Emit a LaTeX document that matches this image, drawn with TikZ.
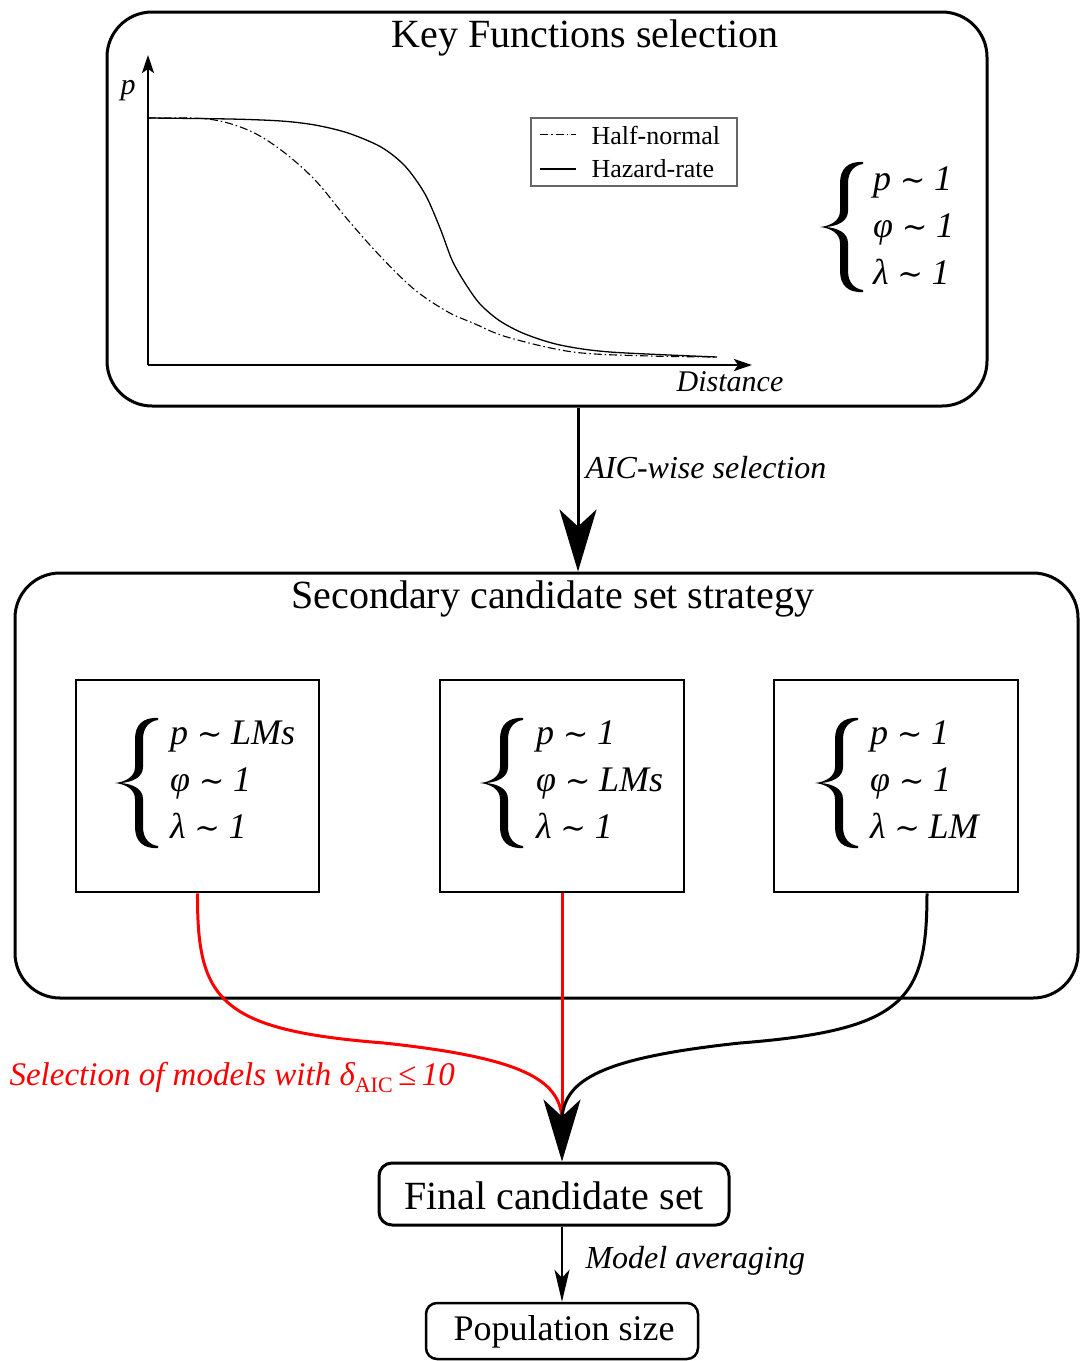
\documentclass[tikz,border=0pt]{standalone}
\usepackage{fontspec}
\setmainfont{Liberation Serif}
\newfontfamily\symfont[Scale=0.85]{DejaVu Serif}
\usetikzlibrary{arrows.meta}
\newcommand{\relx}[2]{\textit{#1}\hspace{0.24em}{\symfont ∼}\hspace{0.24em}\textit{#2}}
\begin{document}
\begin{tikzpicture}[x=1pt,y=-1pt,
  bigbox/.style={draw,line width=3pt,rounded corners=45pt,inner sep=0pt},
  subbox/.style={draw,line width=2.5pt,inner sep=0pt},
  smallbox/.style={draw,line width=3pt,rounded corners=13pt,inner sep=0pt},
  title/.style={font=\fontsize{40}{48}\selectfont},
  lab/.style={font=\fontsize{32}{38}\selectfont\itshape},
  systxt/.style={anchor=west,inner sep=0pt,align=left,font=\fontsize{36}{47}\selectfont},
  bigarrow/.style={line width=3pt,-{Stealth[length=62pt,width=37pt,inset=17pt]}},
  axisarrow/.style={line width=2.5pt,-{Stealth[length=18pt,width=12pt,inset=4pt]}},
  redline/.style={line width=3pt,red},
  blackline/.style={line width=3pt,black},
  mybrace/.pic={\fill (43,-65) .. controls (28,-66) and (20,-58) .. (20,-44) -- (20,-16)
     .. controls (20,-6) and (10,-1) .. (0,0) .. controls (10,1) and (20,6) .. (20,16) -- (20,44)
     .. controls (20,58) and (28,66) .. (43,65) -- (43,63) .. controls (35,62) and (28,56) .. (28,44)
     -- (28,16) .. controls (28,6) and (18,1) .. (6,0) .. controls (18,-1) and (28,-6) .. (28,-16)
     -- (28,-44) .. controls (28,-56) and (35,-62) .. (43,-63) -- cycle;}]
\useasboundingbox (0,0) rectangle (1080,1361);
% top box
\node[bigbox,minimum width=880pt,minimum height=394pt] (top) at (547,209) {};
\node[title] (toptitle) at (585,38) {Key Functions selection};
% axes
\coordinate (org) at (148,365);
\coordinate (ytip) at (148,55);
\coordinate (xtip) at (752,365);
\draw[axisarrow] (org) -- (ytip);
\draw[axisarrow] (org) -- (xtip);
\node[font=\fontsize{30}{36}\selectfont\itshape] (plab) at (128,91) {p};
\node[font=\fontsize{30}{36}\selectfont\itshape] (dlab) at (730,382) {Distance};
% curves
\draw[line width=1.1pt,dash pattern=on 8pt off 3pt on 1.5pt off 3pt]
  plot[smooth,tension=0.55] coordinates {(148,118) (208,119) (248,130) (281,150) (315,180) (348,220) (381,257) (415,290) (448,312) (473,323) (507,337) (573,352) (650,356) (717,357)};
\draw[line width=1.3pt]
  plot[smooth,tension=0.5] coordinates {(148,118) (230,119) (281,121) (315,125) (348,133) (381,147) (405,166) (425,194) (440,228) (452,260) (465,283) (480,304) (500,321) (525,334) (560,345) (610,352) (717,357)};
% legend
\node[draw=black!60,line width=1.2pt,minimum width=206pt,minimum height=68pt,inner sep=0pt] (leg) at (634,152) {};
\draw[line width=1pt,dash pattern=on 8pt off 3pt on 1.5pt off 3pt] (540,134) -- (576,134);
\draw[line width=1.2pt] (540,169) -- (576,169);
\node[anchor=west,font=\fontsize{26}{30}\selectfont] (l1) at (588,135) {Half-normal};
\node[anchor=west,font=\fontsize{26}{30}\selectfont] (l2) at (588,169) {Hazard-rate};
% top system
\pic at (820,227) {mybrace};
\node[systxt] (topsys) at (873,226) {\relx{p}{1}\\\relx{φ}{1}\\\relx{λ}{1}};
% second box
\node[bigbox,minimum width=1063pt,minimum height=425pt] (mid) at (546.5,785.5) {};
\node[title] (midtitle) at (553,599) {Secondary candidate set strategy};
\node[subbox,minimum width=243pt,minimum height=212pt] (b1) at (197.5,786) {};
\node[subbox,minimum width=244pt,minimum height=212pt] (b2) at (562,786) {};
\node[subbox,minimum width=244pt,minimum height=212pt] (b3) at (896,786) {};
\pic at (115,783) {mybrace};
\pic at (480,783) {mybrace};
\pic at (815,783) {mybrace};
\node[systxt] (s1) at (170,780) {\relx{p}{LMs}\\\relx{φ}{1}\\\relx{λ}{1}};
\node[systxt] (s2) at (536,780) {\relx{p}{1}\\\relx{φ}{LMs}\\\relx{λ}{1}};
\node[systxt] (s3) at (870,780) {\relx{p}{1}\\\relx{φ}{1}\\\relx{λ}{LM}};
% arrow 1
\coordinate (ax) at (578,0);
\draw[bigarrow] (top.south -| ax) -- (mid.north -| ax);
\node[lab,anchor=west] (aic) at (582,468) {AIC-wise selection};
% final boxes
\node[smallbox,minimum width=350pt,minimum height=62pt] (final) at (554,1194) {};
\node[title] (finaltxt) at (554,1196) {Final candidate set};
\node[draw,line width=2.5pt,rounded corners=11pt,minimum width=272pt,minimum height=56pt,inner sep=0pt] (pop) at (562,1331) {};
\node[font=\fontsize{36}{42}\selectfont] (poptxt) at (564,1332) {Population size};
% merging curves
\coordinate (m) at (562,1117);
\coordinate (bx) at (927,0);
\draw[redline] (b1.south) .. controls (197,1000) and (219,1030) .. (384,1043) .. controls (524,1058) and (558,1080) .. (m);
\draw[redline] (b2.south) -- (m);
\draw[blackline] (b3.south -| bx) .. controls (927,1000) and (905,1030) .. (740,1043) .. controls (600,1058) and (566,1080) .. (m);
\draw[bigarrow] (m) -- (final.north -| m);
\node[lab,anchor=west,text=red,font=\fontsize{33}{38}\selectfont\itshape] (sel) at (6,1077) {Selection of models with \textit{δ}{\upshape\fontsize{22}{24}\selectfont\raisebox{-7pt}{AIC}}\,≤\,10};
% arrow 2
\draw[line width=2.5pt,-{Stealth[length=32pt,width=15pt,inset=8pt]}] (final.south -| pop.north) -- (pop.north);
\node[lab,anchor=west] (mavg) at (582,1261) {Model averaging};
\end{tikzpicture}
\end{document}
